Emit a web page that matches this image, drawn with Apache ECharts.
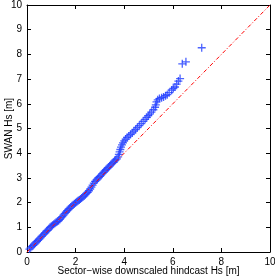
<!DOCTYPE html>
<html><head><meta charset="utf-8">
<script src="https://cdn.jsdelivr.net/npm/echarts@6/dist/echarts.min.js"></script>
<style>html,body{margin:0;padding:0;background:#fff}#c{width:275px;height:276px}</style>
</head><body><div id="c"></div>
<script>
// Hindcast (x) quantiles and SWAN (y) quantiles
var hindcastHs = [0.10,0.15,0.20,0.25,0.30,0.35,0.40,0.45,0.50,0.55,0.60,0.65,0.70,0.75,0.80,0.85,0.90,0.95,1.00,1.05,1.10,1.15,1.20,1.25,1.30,1.35,1.40,1.45,1.50,1.55,1.60,1.65,1.70,1.75,1.80,1.85,1.90,1.95,2.00,2.05,2.10,2.15,2.20,2.25,2.30,2.35,2.40,2.45,2.50,2.55,2.60,2.65,2.70,2.75,2.80,2.85,2.90,2.95,3.00,3.05,3.10,3.15,3.20,3.25,3.30,3.35,3.40,3.45,3.50,3.55,3.60,3.65,3.70,3.75,3.78,3.81,3.84,3.87,3.91,3.95,4.00,4.06,4.12,4.19,4.26,4.33,4.40,4.47,4.54,4.62,4.70,4.78,4.86,4.93,4.99,5.05,5.12,5.20,5.27,5.30,5.33,5.38,5.45,5.54,5.62,5.70,5.77,5.85,5.95,6.02,6.09,6.16,6.23,6.30,6.39,6.54,7.19];
var swanHs = [0.12,0.17,0.22,0.27,0.32,0.37,0.42,0.47,0.52,0.57,0.63,0.68,0.73,0.78,0.84,0.88,0.94,1.00,1.04,1.08,1.12,1.16,1.20,1.23,1.27,1.32,1.38,1.43,1.49,1.55,1.61,1.67,1.72,1.77,1.82,1.87,1.91,1.95,1.99,2.03,2.07,2.11,2.15,2.19,2.23,2.27,2.32,2.37,2.42,2.48,2.55,2.63,2.71,2.79,2.86,2.91,2.96,3.01,3.06,3.11,3.17,3.22,3.28,3.33,3.38,3.43,3.48,3.53,3.58,3.63,3.68,3.73,3.77,3.85,3.95,4.05,4.15,4.25,4.34,4.42,4.50,4.57,4.64,4.70,4.76,4.82,4.89,4.96,5.04,5.12,5.20,5.29,5.37,5.45,5.52,5.58,5.66,5.76,5.86,5.96,6.08,6.16,6.21,6.25,6.28,6.33,6.37,6.45,6.55,6.62,6.68,6.80,6.92,7.02,7.62,7.70,8.27];
// 1:1 reference line
var refX = [0, 10];
var refY = [0, 10];
var xTicks = [0, 2, 4, 6, 8, 10];
var yTicks = [0, 1, 2, 3, 4, 5, 6, 7, 8, 9, 10];

var pts = hindcastHs.map(function(v, i){ return [v, swanHs[i]]; });
var ref = refX.map(function(v, i){ return [v, refY[i]]; });

var FONT = 'Liberation Sans';
var lab = {fontFamily: FONT, fontSize: 10, color: '#000'};
function ax(extra){
  var base = {
    type: 'value', min: 0, max: 10,
    splitLine: {show: false},
    axisLine: {show: true, onZero: false, lineStyle: {color: '#000', width: 1}},
    axisTick: {show: true, inside: true, length: 4, lineStyle: {color: '#000', width: 1}},
    axisLabel: Object.assign({show: true, margin: 5}, lab)
  };
  return Object.assign(base, extra);
}
var chart = echarts.init(document.getElementById('c'), null, {renderer: 'canvas'});
chart.setOption({
  animation: false,
  backgroundColor: '#fff',
  grid: {left: 27, right: 5, top: 5, bottom: 24, containLabel: false, outerBoundsMode: 'none'},
  xAxis: [
    ax({position: 'bottom', interval: xTicks[1] - xTicks[0],
        name: 'Sector\u2212wise downscaled hindcast Hs [m]', nameLocation: 'middle', nameGap: 14,
        nameMoveOverlap: false, nameTextStyle: lab}),
    ax({position: 'top', interval: xTicks[1] - xTicks[0], axisLabel: {show: false}})
  ],
  yAxis: [
    ax({position: 'left', interval: yTicks[1] - yTicks[0],
        name: 'SWAN Hs [m]', nameLocation: 'middle', nameGap: 13, nameRotate: 90,
        nameMoveOverlap: false, nameTextStyle: lab}),
    ax({position: 'right', interval: yTicks[1] - yTicks[0], axisLabel: {show: false}})
  ],
  series: [
    {type: 'scatter', data: pts, symbol: 'path://M0,-1L0,1M-1,0L1,0', symbolSize: 8,
     itemStyle: {color: 'none', borderColor: '#1f3cff', borderWidth: 1.3}, silent: true},
    {type: 'line', data: ref, showSymbol: false, symbol: 'none',
     lineStyle: {color: '#ff0000', width: 1, type: [4, 2, 1, 2]}, silent: true}
  ]
});
</script></body></html>
